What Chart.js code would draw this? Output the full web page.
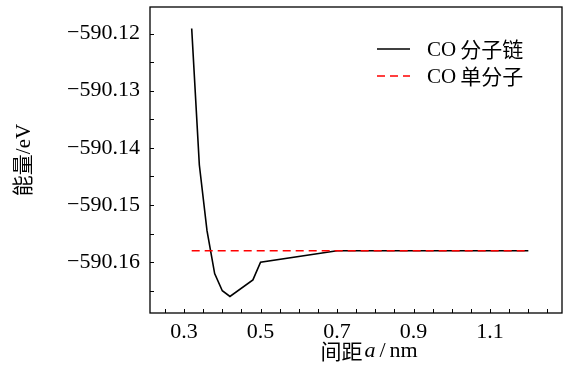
<!DOCTYPE html>
<html>
<head>
<meta charset="utf-8">
<script src="https://cdn.jsdelivr.net/npm/chart.js@4/dist/chart.umd.min.js"></script>
<style>
  html, body { margin: 0; padding: 0; background: #fff; }
  #wrap { width: 568px; height: 378px; }
</style>
</head>
<body>
<div id="wrap"><canvas id="c" width="568" height="378"></canvas></div>
<script>
// ---- data ----
const spacingNm = [0.32, 0.34, 0.36, 0.38, 0.40, 0.42, 0.48, 0.50, 0.70, 0.80, 0.90, 1.00, 1.10, 1.20];
const chainEnergy = [-590.1191, -590.1430, -590.1545, -590.1620, -590.1650, -590.1660, -590.1631, -590.1600,
                     -590.1580, -590.1580, -590.1580, -590.1580, -590.1580, -590.1580];
const singleX = [0.32, 1.20];
const singleEnergy = [-590.1580, -590.1580];
const xTickValues = [0.25, 0.30, 0.35, 0.40, 0.45, 0.50, 0.55, 0.60, 0.65, 0.70, 0.75, 0.80, 0.85, 0.90, 0.95, 1.00, 1.05, 1.10, 1.15, 1.20, 1.25];
const xTickLabels = ['0.3', '0.5', '0.7', '0.9', '1.1'];
const yTickValues = [-590.165, -590.160, -590.155, -590.150, -590.145, -590.140, -590.135, -590.130, -590.125, -590.120];
const yTickLabels = ['−590.12', '−590.13', '−590.14', '−590.15', '−590.16'];
const seriesNames = ['CO分子链', 'CO单分子'];

const SERIF = '"Liberation Serif", "Noto Sans CJK SC", serif';
const CJK = '"Noto Sans CJK SC", sans-serif';

function fmtX(v) { return v.toFixed(1); }
function fmtY(v) { return '−' + Math.abs(v).toFixed(2); }

const framePlugin = {
  id: 'frame',
  afterDraw(chart) {
    const ctx = chart.ctx, a = chart.chartArea;
    const xs = chart.scales.x, ys = chart.scales.y;
    ctx.save();
    ctx.strokeStyle = '#000';
    ctx.lineWidth = 1.3;
    ctx.setLineDash([]);
    ctx.strokeRect(a.left, a.top, a.right - a.left, a.bottom - a.top);
    ctx.lineWidth = 1;
    ctx.beginPath();
    xs.ticks.forEach(t => {
      const p = Math.round(xs.getPixelForValue(t.value)) + 0.5;
      ctx.moveTo(p, a.bottom);
      ctx.lineTo(p, a.bottom - 4);
    });
    ys.ticks.forEach(t => {
      const p = Math.round(ys.getPixelForValue(t.value)) + 0.5;
      ctx.moveTo(a.left, p);
      ctx.lineTo(a.left + 4, p);
    });
    ctx.stroke();

    // legend (top right, inside the plot)
    const lx0 = a.right - 185, lx1 = a.right - 152, tx = a.right - 135;
    const rows = [a.top + 42, a.top + 69];
    chart.data.datasets.forEach((ds, i) => {
      const y = rows[i];
      ctx.strokeStyle = ds.borderColor;
      ctx.lineWidth = ds.borderWidth;
      ctx.setLineDash(ds.borderDash || []);
      ctx.beginPath();
      ctx.moveTo(lx0, y);
      ctx.lineTo(lx1, y);
      ctx.stroke();
      ctx.setLineDash([]);
      ctx.fillStyle = '#000';
      ctx.textBaseline = 'middle';
      ctx.textAlign = 'left';
      const latin = ds.label.match(/^[A-Za-z]+/)[0];
      const rest = ds.label.slice(latin.length);
      ctx.font = '21px ' + SERIF;
      ctx.fillText(latin, tx, y + 1);
      const w = ctx.measureText(latin).width;
      ctx.font = '21px ' + CJK;
      ctx.fillText(rest, tx + w + 4, y);
    });

    // x-axis title: 间距 a / nm  (a in italic)
    const parts = [
      { t: '间距', f: '21px ' + CJK },
      { t: 'a', f: 'italic 22px ' + SERIF },
      { t: '/', f: '22px ' + SERIF },
      { t: 'nm', f: '22px ' + SERIF }
    ];
    const gaps = [2, 4, 4, 0];
    let total = 0;
    parts.forEach((p, i) => { ctx.font = p.f; p.w = ctx.measureText(p.t).width; total += p.w + gaps[i]; });
    let x = 369 - total / 2;
    const ty = 351;
    ctx.fillStyle = '#000';
    ctx.textBaseline = 'middle';
    parts.forEach((p, i) => {
      ctx.font = p.f;
      ctx.fillText(p.t, x, ty);
      x += p.w + gaps[i];
    });
    ctx.restore();
  }
};

new Chart(document.getElementById('c'), {
  type: 'line',
  data: {
    datasets: [
      {
        label: seriesNames[0],
        data: spacingNm.map((x, i) => ({ x, y: chainEnergy[i] })),
        borderColor: '#000',
        borderWidth: 1.6,
        pointRadius: 0,
        tension: 0,
        order: 2
      },
      {
        label: seriesNames[1],
        data: singleX.map((x, i) => ({ x, y: singleEnergy[i] })),
        borderColor: '#ff0000',
        borderWidth: 1.6,
        borderDash: [8, 5],
        pointRadius: 0,
        tension: 0,
        order: 1
      }
    ]
  },
  options: {
    responsive: false,
    animation: false,
    devicePixelRatio: 1,
    layout: { padding: { top: 7, right: 6, left: 0, bottom: 0 } },
    plugins: { legend: { display: false }, tooltip: { enabled: false } },
    scales: {
      x: {
        type: 'linear',
        min: 0.211,
        max: 1.288,
        grid: { display: false, drawTicks: false },
        border: { display: false },
        afterBuildTicks: s => { s.ticks = xTickValues.map(v => ({ value: v })); },
        afterFit: s => { s.height = 65; s.paddingLeft = 0; s.paddingRight = 0; },
        ticks: {
          autoSkip: false,
          maxRotation: 0,
          padding: 6,
          color: '#000',
          font: { family: SERIF, size: 22 },
          callback: v => { const l = fmtX(v); return (xTickLabels.includes(l) && Math.abs(v - parseFloat(l)) < 1e-6) ? l : ''; }
        },
        title: { display: false }
      },
      y: {
        min: -590.1689,
        max: -590.11535,
        grid: { display: false, drawTicks: false },
        border: { display: false },
        afterBuildTicks: s => { s.ticks = yTickValues.map(v => ({ value: v })); },
        afterFit: s => { s.width = 150; s.paddingTop = 0; s.paddingBottom = 0; },
        ticks: {
          autoSkip: false,
          padding: 10,
          color: '#000',
          font: { family: SERIF, size: 22 },
          callback: v => { const l = fmtY(v); return (yTickLabels.includes(l) && Math.abs(Math.abs(v) - Math.abs(parseFloat(l.slice(1)))) < 1e-6) ? l : ''; }
        },
        title: {
          display: true,
          text: '能量/eV',
          color: '#000',
          font: { family: SERIF, size: 21 },
          padding: { top: 12, bottom: 0 }
        }
      }
    }
  },
  plugins: [framePlugin]
});
</script>
</body>
</html>
